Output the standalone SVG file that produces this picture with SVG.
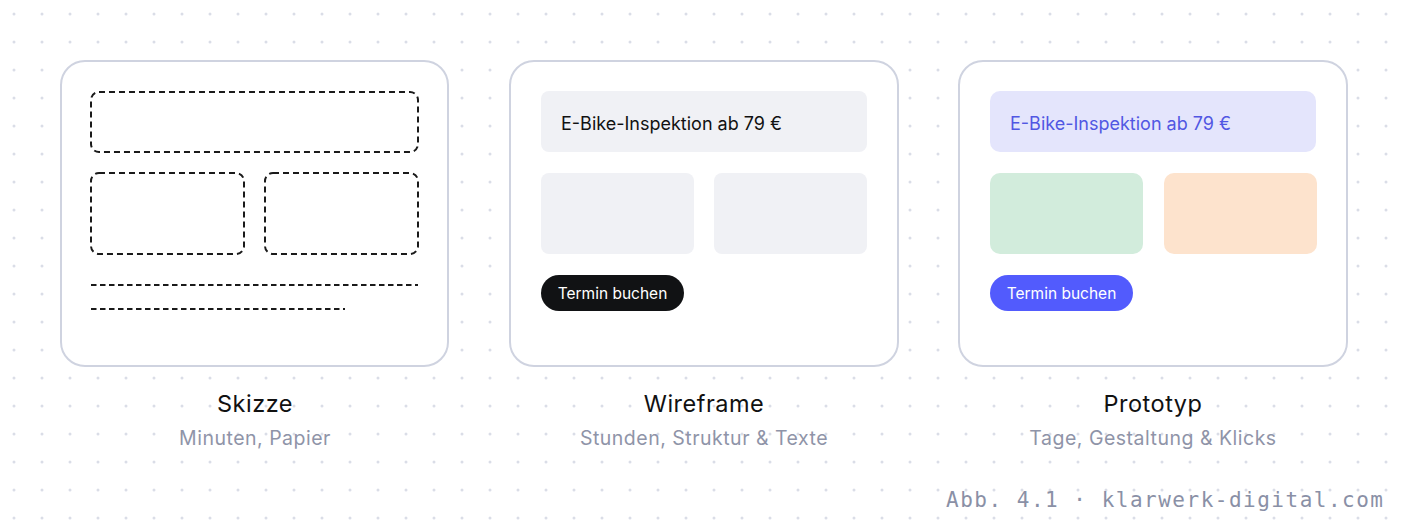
<svg xmlns="http://www.w3.org/2000/svg" width="1408" height="530" viewBox="0 0 1408 530">
  <defs>
    <pattern id="dots" x="0" y="0" width="28" height="28" patternUnits="userSpaceOnUse">
      <circle cx="14" cy="14" r="1.5" fill="#dadde7"/>
    </pattern>
    <style>
      .card { fill: #ffffff; stroke: #cfd3e0; stroke-width: 2; }
      .sk { fill: none; stroke: #1a1a1a; stroke-width: 2; stroke-dasharray: 6 4; }
      .skl { fill: none; stroke: #1a1a1a; stroke-width: 2; stroke-dasharray: 5.5 3.5; }
      .wf { fill: #f0f1f5; }
      .title { font-family: Inter, "Liberation Sans", sans-serif; font-size: 23.5px; letter-spacing: 0.5px; fill: #111111; text-anchor: middle; }
      .sub { font-family: Inter, "Liberation Sans", sans-serif; font-size: 19.5px; letter-spacing: 0.5px; fill: #8f94a8; text-anchor: middle; }
      .head { font-family: Inter, "Liberation Sans", sans-serif; font-size: 18px; }
      .btn { font-family: Inter, "Liberation Sans", sans-serif; font-size: 15.5px; fill: #ffffff; text-anchor: middle; }
      .foot { font-family: "DejaVu Sans Mono", "Liberation Mono", monospace; font-size: 21px; fill: #8a90a6; letter-spacing: 1.5px; text-anchor: end; }
    </style>
  </defs>
  <rect width="1408" height="530" fill="#ffffff"/>
  <rect width="1408" height="530" fill="url(#dots)"/>

  <g id="skizze">
    <rect class="card" x="61" y="61" width="387" height="305" rx="24"/>
    <rect class="sk" x="91" y="92" width="327" height="60" rx="8"/>
    <rect class="sk" x="91" y="173" width="153" height="81" rx="8"/>
    <rect class="sk" x="265" y="173" width="153" height="81" rx="8"/>
    <line class="skl" x1="91" y1="285" x2="418" y2="285"/>
    <line class="skl" x1="91" y1="309" x2="345" y2="309"/>
    <text class="title" x="255" y="411.5">Skizze</text>
    <text class="sub" x="255" y="445">Minuten, Papier</text>
  </g>

  <g id="wireframe">
    <rect class="card" x="510" y="61" width="388" height="305" rx="24"/>
    <rect class="wf" x="541" y="91" width="326" height="61" rx="8"/>
    <text class="head" x="561" y="130" fill="#111111">E-Bike-Inspektion ab 79 €</text>
    <rect class="wf" x="541" y="173" width="153" height="81" rx="8"/>
    <rect class="wf" x="714" y="173" width="153" height="81" rx="8"/>
    <rect x="541" y="275" width="143" height="36" rx="18" fill="#111214"/>
    <text class="btn" x="612.5" y="298.5">Termin buchen</text>
    <text class="title" x="704" y="411.5">Wireframe</text>
    <text class="sub" x="704" y="445">Stunden, Struktur &amp; Texte</text>
  </g>

  <g id="prototyp">
    <rect class="card" x="959" y="61" width="388" height="305" rx="24"/>
    <rect x="990" y="91" width="326" height="61" rx="10" fill="#e4e5fc"/>
    <text class="head" x="1010" y="130" fill="#5157e3">E-Bike-Inspektion ab 79 €</text>
    <rect x="990" y="173" width="153" height="81" rx="10" fill="#d2ecdc"/>
    <rect x="1164" y="173" width="153" height="81" rx="10" fill="#fde3cd"/>
    <rect x="990" y="275" width="143" height="36" rx="18" fill="#525bfd"/>
    <text class="btn" x="1061.5" y="298.5">Termin buchen</text>
    <text class="title" x="1153" y="411.5">Prototyp</text>
    <text class="sub" x="1153" y="445">Tage, Gestaltung &amp; Klicks</text>
  </g>

  <g id="connectors"/>

  <text class="foot" x="1384.5" y="507">Abb. 4.1 · klarwerk-digital.com</text>
</svg>
